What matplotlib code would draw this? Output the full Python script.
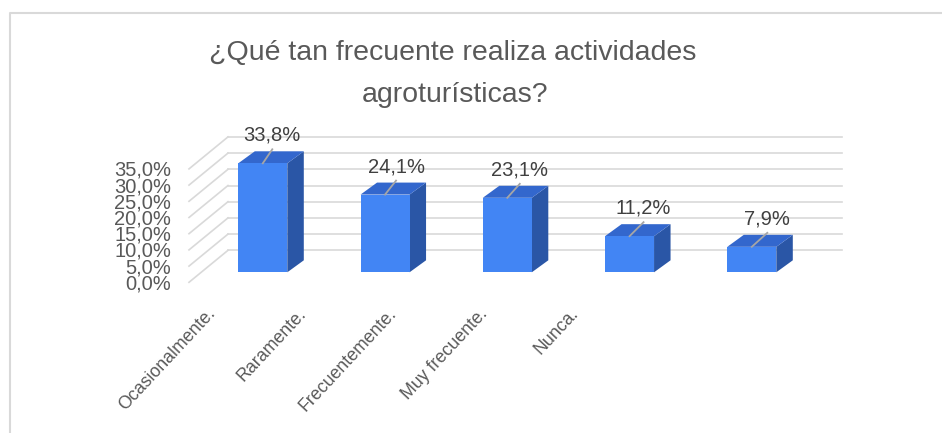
import matplotlib
matplotlib.use("Agg")
import matplotlib.pyplot as plt
from matplotlib.patches import Polygon

plt.rcParams['font.family'] = ['Liberation Sans', 'DejaVu Sans']

# ---- data ----
title_lines = ["¿Qué tan frecuente realiza actividades", "agroturísticas?"]
categories = ["Ocasionalmente.", "Raramente.", "Frecuentemente.", "Muy frecuente.", "Nunca."]
values = [33.8, 24.1, 23.1, 11.2, 7.9]
value_labels = ["33,8%", "24,1%", "23,1%", "11,2%", "7,9%"]
yticks = [0, 5, 10, 15, 20, 25, 30, 35]
ytick_labels = ["0,0%", "5,0%", "10,0%", "15,0%", "20,0%", "25,0%", "30,0%", "35,0%"]

# ---- pseudo-3D projection (pixel space) ----
W_PX, H_PX = 942, 433
BAR_X0, BAR_STEP, BAR_W = 238.3, 122.25, 49.0
BAR_BASE, SCALE = 272.3, 3.225
DEP_X, DEP_Y = 16.5, -12.0
WALL_BASE_BACK, WALL_BASE_FRONT, WALL_SCALE = 250.3, 282.3, 3.24
WALL_X_BACK, WALL_X_FRONT, WALL_X_RIGHT = 228.0, 189.0, 842.0
LABEL_X0, LABEL_STEP, LABEL_Y = 216.0, 90.7, 314.0

FRONT, TOP, SIDE = "#4285F4", "#3367CD", "#2A56A6"
GRID = "#D9D9D9"
TXT = "#595959"


def bar_y(v):
    return BAR_BASE - v * SCALE


fig = plt.figure(figsize=(W_PX / 100, H_PX / 100), dpi=100)
ax = fig.add_axes([0, 0, 1, 1])
ax.set_xlim(0, W_PX)
ax.set_ylim(H_PX, 0)
ax.axis("off")

# chart border
ax.plot([10, 10, W_PX], [H_PX, 13, 13], color=GRID, lw=1.5, solid_capstyle="butt")

# walls: back gridlines and left side diagonals
for t, lab in zip(yticks, ytick_labels):
    yb = WALL_BASE_BACK - t * WALL_SCALE
    yf = WALL_BASE_FRONT - t * WALL_SCALE
    ax.plot([WALL_X_BACK, WALL_X_RIGHT], [yb, yb], color=GRID, lw=1.2, zorder=1)
    ax.plot([WALL_X_FRONT, WALL_X_BACK], [yf, yb], color=GRID, lw=1.2, zorder=1)
    ax.text(171, yf + 1.5, lab, ha="right", va="center", fontsize=14.5, color=TXT)

# bars
for i, (v, lab) in enumerate(zip(values, value_labels)):
    x0 = BAR_X0 + i * BAR_STEP
    x1 = x0 + BAR_W
    yt = bar_y(v)
    yb = bar_y(0)
    side = [(x1, yb), (x1 + DEP_X, yb + DEP_Y), (x1 + DEP_X, yt + DEP_Y), (x1, yt)]
    top = [(x0, yt), (x0 + DEP_X, yt + DEP_Y), (x1 + DEP_X, yt + DEP_Y), (x1, yt)]
    front = [(x0, yb), (x0, yt), (x1, yt), (x1, yb)]
    ax.add_patch(Polygon(side, closed=True, facecolor=SIDE, edgecolor="none", zorder=3))
    ax.add_patch(Polygon(top, closed=True, facecolor=TOP, edgecolor="none", zorder=3))
    ax.add_patch(Polygon(front, closed=True, facecolor=FRONT, edgecolor="none", zorder=3))

    cx = (x0 + x1) / 2
    lx = cx + 9.5 + 1.5 * i
    ly = yt - 28
    ax.plot([cx, lx], [yt, ly + 14], color="#A6A6A6", lw=1.3, zorder=4)
    ax.text(lx, ly, lab, ha="center", va="center", fontsize=14.5, color="#404040", zorder=5)

# category labels
for i, c in enumerate(categories):
    ax.text(LABEL_X0 + i * LABEL_STEP, LABEL_Y, c, rotation=47, rotation_mode="anchor",
            ha="right", va="baseline", fontsize=12.8, color=TXT)

# title
ax.text(453, 60, title_lines[0], ha="center", va="baseline", fontsize=20.5, color=TXT)
ax.text(455, 102, title_lines[1], ha="center", va="baseline", fontsize=20.5, color=TXT)

fig.savefig("out.png", dpi=100)
